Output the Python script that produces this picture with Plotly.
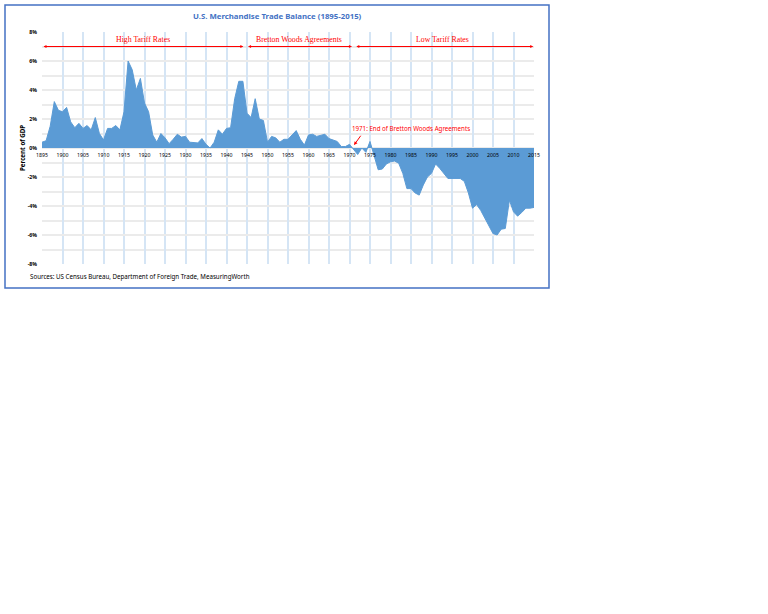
import plotly.graph_objects as go

# Merchandise trade balance as % of GDP
years = list(range(1895, 2016))
balance = [
    0.4, 0.5, 1.5, 3.2, 2.6, 2.5, 2.8, 1.8, 1.4, 1.7,          # 1895-1904
    1.35, 1.55, 1.25, 2.1, 1.0, 0.55, 1.35, 1.35, 1.55, 1.25,  # 1905-1914
    2.5, 6.0, 5.4, 4.0, 4.8, 3.1, 2.5, 0.9, 0.4, 1.0,          # 1915-1924
    0.7, 0.3, 0.6, 0.95, 0.75, 0.8, 0.4, 0.4, 0.35, 0.65,      # 1925-1934
    0.25, 0.0, 0.4, 1.25, 0.95, 1.35, 1.4, 3.4, 4.6, 4.6,      # 1935-1944
    2.4, 2.1, 3.4, 2.0, 1.9, 0.4, 0.8, 0.7, 0.4, 0.6,          # 1945-1954
    0.6, 0.9, 1.2, 0.6, 0.2, 0.9, 0.95, 0.8, 0.85, 0.95,       # 1955-1964
    0.65, 0.55, 0.45, 0.1, 0.1, 0.25, -0.1, -0.45, 0.0, -0.3,  # 1965-1974
    0.45, -0.5, -1.5, -1.45, -1.1, -0.95, -0.9, -1.05, -1.75, -2.8,  # 1975-1984
    -2.8, -3.1, -3.25, -2.55, -2.0, -1.75, -1.1, -1.4, -1.75, -2.1,  # 1985-1994
    -2.1, -2.1, -2.1, -2.3, -3.1, -4.15, -3.9, -4.3, -4.8, -5.4,     # 1995-2004
    -5.9, -6.0, -5.6, -5.55, -3.6, -4.4, -4.7, -4.45, -4.15, -4.15,  # 2005-2014
    -4.1,                                                            # 2015
]

# Policy eras: label, arrow start/end year, label x
era_names = ["High Tariff Rates", "Bretton Woods Agreements", "Low Tariff Rates"]
era_start = [1895, 1944.9, 1971.3]
era_end = [1944.1, 1970.6, 2014.8]
era_label_x = [1919.6, 1957.7, 1992.6]

x_ticks = list(range(1895, 2016, 5))
y_ticks = [8, 6, 4, 2, 0, -2, -4, -6, -8]
y_tick_text = [f"{v}%" for v in y_ticks]

BLUE = "#5B9BD5"
RED = "#FF0000"
W, H = 768, 614


def px(x):
    return x / W


def py(y):
    return 1 - y / H


fig = go.Figure()

fig.add_trace(go.Scatter(
    x=years,
    y=balance,
    mode="lines",
    fill="tozeroy",
    fillcolor=BLUE,
    line=dict(color=BLUE, width=1),
    hoverinfo="x+y",
    showlegend=False,
))

annotations = []

# double-headed era arrows with labels
for name, x0, x1, xl in zip(era_names, era_start, era_end, era_label_x):
    annotations.append(dict(
        x=x1, y=7.0, ax=x0, ay=7.0, xref="x", yref="y", axref="x", ayref="y",
        text="", showarrow=True, arrowside="end+start", arrowhead=2,
        arrowsize=0.6, arrowwidth=1, arrowcolor=RED,
    ))
    annotations.append(dict(
        x=xl, y=7.45, xref="x", yref="y", text=name, showarrow=False,
        font=dict(family="Liberation Serif", size=7.8, color=RED),
    ))

# end of Bretton Woods callout
annotations.append(dict(
    x=1971.1, y=0.2, ax=1973.0, ay=0.95, xref="x", yref="y", axref="x", ayref="y",
    text="", showarrow=True, arrowhead=2, arrowsize=0.7, arrowwidth=1, arrowcolor=RED,
))
annotations.append(dict(
    x=1970.0, y=1.36, xref="x", yref="y", xanchor="left",
    text="1971: End of Bretton Woods Agreements", showarrow=False,
    font=dict(family="Noto Sans", size=6.2, color=RED),
))

# title, axis title, sources
annotations.append(dict(
    x=px(277), y=py(16), xref="paper", yref="paper",
    xanchor="center", yanchor="middle",
    text="<b>U.S. Merchandise Trade Balance (1895-2015)</b>", showarrow=False,
    font=dict(family="Noto Sans", size=7.8, color="#4472C4"),
))
annotations.append(dict(
    x=px(22), y=py(148), xref="paper", yref="paper", textangle=-90,
    xanchor="center", yanchor="middle",
    text="<b>Percent of GDP</b>", showarrow=False,
    font=dict(family="Noto Sans", size=6.2, color="#000000"),
))
annotations.append(dict(
    x=px(28), y=py(276), xref="paper", yref="paper",
    xanchor="left", yanchor="middle",
    text="Sources: US Census Bureau, Department of Foreign Trade, MeasuringWorth",
    showarrow=False, font=dict(family="Noto Sans", size=6.2, color="#000000"),
))

y_dom = [py(264), py(32)]

fig.update_layout(
    width=W,
    height=H,
    margin=dict(l=0, r=0, t=0, b=0),
    paper_bgcolor="white",
    plot_bgcolor="white",
    font=dict(family="Noto Sans", color="#000000"),
    xaxis=dict(
        domain=[px(42), px(534)],
        range=[1895, 2015],
        tickvals=x_ticks,
        tickfont=dict(size=5.2, family="Noto Sans"),
        tickprefix="<b>", ticksuffix="</b>",
        ticklabelstandoff=3,
        showgrid=True,
        gridcolor="#D5E5F5",
        gridwidth=1.5,
        zeroline=False,
        showline=False,
        anchor="free",
        position=(y_dom[0] + y_dom[1]) / 2,
        ticks="",
        automargin=False,
    ),
    yaxis=dict(
        domain=y_dom,
        range=[-8, 8],
        tickvals=y_ticks,
        ticktext=[f"<b>{t}</b>" for t in y_tick_text],
        tickfont=dict(size=5.2, family="Noto Sans"),
        ticklabelstandoff=4,
        showgrid=True,
        gridcolor="#EBEBEB",
        gridwidth=1.5,
        minor=dict(dtick=1, showgrid=True, gridcolor="#EBEBEB", gridwidth=1.5),
        zeroline=False,
        showline=False,
        ticks="",
        automargin=False,
    ),
    shapes=[dict(
        type="rect", xref="paper", yref="paper",
        x0=px(5), x1=px(549), y0=py(288), y1=py(5),
        line=dict(color="#4472C4", width=1.5),
    )],
    annotations=annotations,
)

# drop the default page margin so the figure lines up with the window
fig.write_html(
    "out.html",
    config={"displayModeBar": False},
    post_script="document.body.style.margin='0';document.body.style.overflow='hidden';",
)
